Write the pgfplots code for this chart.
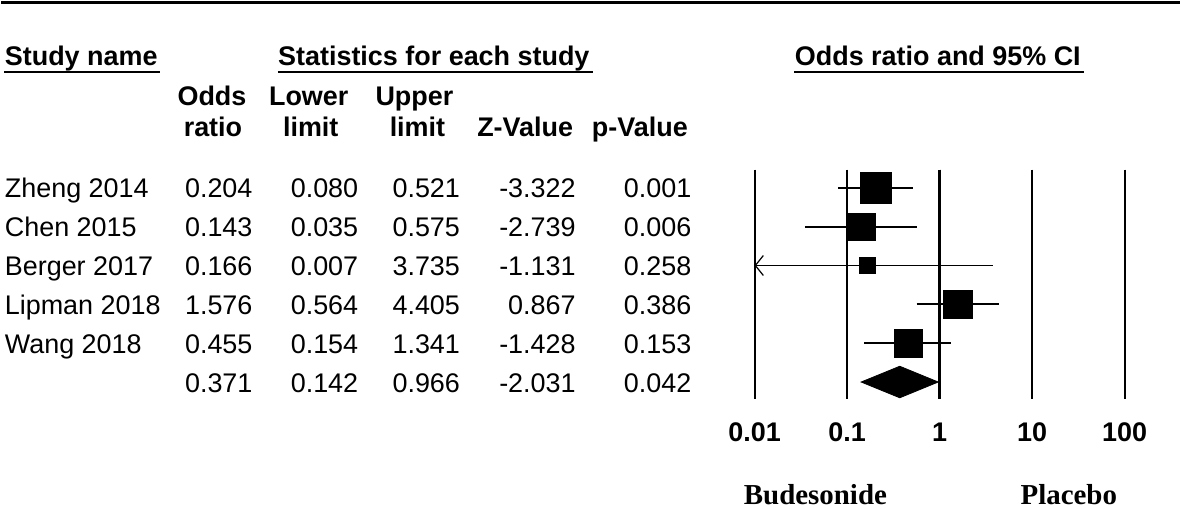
\documentclass[border=0pt]{standalone}
\usepackage{fontspec}
\setmainfont{Liberation Sans}
\newfontfamily\timesfont{Liberation Serif}
\usepackage{pgfplots}
\pgfplotsset{compat=1.18}
\usetikzlibrary{arrows.meta}
\newcommand\row[7]{%
  \node[anchor=base west,inner sep=0pt] at (axis cs:3,#1) {#2};
  \node[anchor=base east,inner sep=0pt] at (axis cs:252,#1) {#3};
  \node[anchor=base east,inner sep=0pt] at (axis cs:358,#1) {#4};
  \node[anchor=base east,inner sep=0pt] at (axis cs:460,#1) {#5};
  \node[anchor=base east,inner sep=0pt] at (axis cs:576,#1) {#6};
  \node[anchor=base east,inner sep=0pt] at (axis cs:692,#1) {#7};}
\begin{document}
\fontsize{13.5pt}{16pt}\selectfont
\begin{tikzpicture}
% ---------------- table part (pixel coordinates) ----------------
\begin{axis}[at={(0,0)},anchor=south west,scale only axis,
  width=590.5pt,height=255pt,xmin=0,xmax=1181,ymin=0,ymax=510,
  y dir=reverse,hide axis,clip=false]
\path (axis cs:0,0) rectangle (axis cs:1181,510);
\draw[line width=1.5pt] (axis cs:0,2.5) -- (axis cs:1181,2.5);
% group headers
\node[anchor=base west,font=\bfseries,inner sep=0pt] at (axis cs:3,66) {Study name};
\draw[line width=1pt] (axis cs:3,72) -- (axis cs:159,72);
\node[anchor=base west,font=\bfseries,inner sep=0pt] at (axis cs:277,66) {Statistics for each study};
\draw[line width=1pt] (axis cs:277,72) -- (axis cs:593,72);
\node[anchor=base west,font=\bfseries,inner sep=0pt] at (axis cs:795,66) {Odds ratio and 95\% CI};
\draw[line width=1pt] (axis cs:795,72) -- (axis cs:1085,72);
% column headers
\node[anchor=base,font=\bfseries,inner sep=0pt] at (axis cs:211,106) {Odds};
\node[anchor=base,font=\bfseries,inner sep=0pt] at (axis cs:212,137) {ratio};
\node[anchor=base,font=\bfseries,inner sep=0pt] at (axis cs:308,106) {Lower};
\node[anchor=base,font=\bfseries,inner sep=0pt] at (axis cs:310,137) {limit};
\node[anchor=base,font=\bfseries,inner sep=0pt] at (axis cs:414,106) {Upper};
\node[anchor=base,font=\bfseries,inner sep=0pt] at (axis cs:417,137) {limit};
\node[anchor=base,font=\bfseries,inner sep=0pt] at (axis cs:525,137) {Z-Value};
\node[anchor=base,font=\bfseries,inner sep=0pt] at (axis cs:640,137) {p-Value};
% rows
\row{198.3}{Zheng 2014}{0.204}{0.080}{0.521}{-3.322}{0.001}
\row{237.2}{Chen 2015}{0.143}{0.035}{0.575}{-2.739}{0.006}
\row{276.2}{Berger 2017}{0.166}{0.007}{3.735}{-1.131}{0.258}
\row{315.1}{Lipman 2018}{1.576}{0.564}{4.405}{0.867}{0.386}
\row{354.1}{Wang 2018}{0.455}{0.154}{1.341}{-1.428}{0.153}
\row{393.0}{}{0.371}{0.142}{0.966}{-2.031}{0.042}
% bottom labels
\node[anchor=base,inner sep=0pt,font=\timesfont\bfseries\fontsize{14.5pt}{17pt}\selectfont] at (axis cs:816,506) {Budesonide};
\node[anchor=base,inner sep=0pt,font=\timesfont\bfseries\fontsize{14.5pt}{17pt}\selectfont] at (axis cs:1070,506) {Placebo};
\end{axis}
% ---------------- forest plot ----------------
\begin{axis}[at={(377.5pt,55pt)},anchor=south west,scale only axis,
  width=185.5pt,height=115pt,xmode=log,xmin=0.01,xmax=100,
  ymin=0.53,ymax=6.437,y dir=reverse,
  axis line style={draw=none},ytick=\empty,
  xtick={0.01,0.1,1,10,100},xticklabels={0.01,0.1,1,10,100},
  xminorticks=false,tick style={draw=none},major tick length=0pt,
  xmajorgrids,major grid style={black,line width=1pt},
  xticklabel style={font=\bfseries,anchor=base,inner sep=0pt,yshift=-21.5pt},
  clip=false]
\addplot[black,line width=1.4pt,mark=none] coordinates {(1,0.53) (1,6.437)};
\addplot[black,line width=1pt,mark=square*,mark size=7.6pt,mark indices={2},mark options={solid,line width=0.3pt}]
  coordinates {(0.080,1) (0.204,1) (0.521,1)};
\addplot[black,line width=1pt,mark=square*,mark size=6.7pt,mark indices={2},mark options={solid,line width=0.3pt}]
  coordinates {(0.035,2) (0.143,2) (0.575,2)};
\addplot[black,line width=1pt,mark=none,-{Straight Barb[length=4pt,width=10pt,line width=0.6pt]}]
  coordinates {(3.735,3) (0.01,3)};
\addplot[black,only marks,mark=square*,mark size=3.9pt,mark options={solid,line width=0.3pt}]
  coordinates {(0.166,3)};
\addplot[black,line width=1pt,mark=square*,mark size=7.1pt,mark indices={2},mark options={solid,line width=0.3pt}]
  coordinates {(0.564,4) (1.576,4) (4.405,4)};
\addplot[black,line width=1pt,mark=square*,mark size=7.1pt,mark indices={2},mark options={solid,line width=0.3pt}]
  coordinates {(0.154,5) (0.455,5) (1.341,5)};
\addplot[black,fill=black,mark=none]
  coordinates {(0.142,6) (0.371,5.594) (0.966,6) (0.371,6.406)} -- cycle;
\end{axis}
\end{tikzpicture}
\end{document}
